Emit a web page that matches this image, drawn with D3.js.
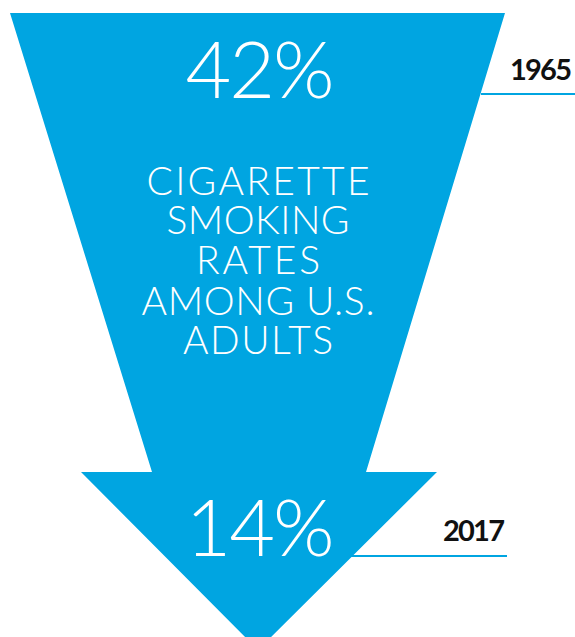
<!DOCTYPE html>
<html>
<head>
<meta charset="utf-8">
<script src="https://cdn.jsdelivr.net/npm/d3@7"></script>
<style>
html,body{margin:0;padding:0;background:#fff;}
svg{display:block;}
</style>
</head>
<body>
<svg id="chart" width="575" height="637"></svg>
<script>
const years = ["1965", "2017"];
const rates = [42, 14];
const titleLines = ["CIGARETTE", "SMOKING", "RATES", "AMONG U.S.", "ADULTS"];

const blue = "#00a5e1";
const svg = d3.select("#chart");

// vertical scale: position of years along arrow
const yPos = d3.scalePoint().domain(years).range([13, 472]);

const topY = yPos(years[0]), neckY = yPos(years[1]);
const cx = 258;
const arrow = [
  [10, topY], [505, topY], [366, neckY], [437, neckY],
  [cx, neckY + 178], [81, neckY], [152, neckY]
];
svg.append("path")
  .attr("d", d3.line()(arrow) + "Z")
  .attr("fill", blue);

const fmt = d => d + "%";
const valueY = [98, 556];
const labelY = [80, 541];
const ruleY = [94, 556];
const ruleX = [[481, 575], [348, 507]];
const labelX = [572, 505];
const titleW = [223, 183, 124, 233, 150];
const titleY = [195, 234, 274, 315, 354];

svg.selectAll("text.value").data(rates).join("text")
  .attr("class", "value")
  .attr("x", cx + 1)
  .attr("y", (d, i) => valueY[i])
  .attr("text-anchor", "middle")
  .attr("fill", "#fff")
  .style("font-family", "Lato, 'Open Sans', sans-serif")
  .style("font-weight", 300)
  .style("font-size", "79px")
  .style("letter-spacing", "-2px")
  .text(fmt);

svg.selectAll("line.rule").data(years).join("line")
  .attr("class", "rule")
  .attr("x1", (d, i) => ruleX[i][0])
  .attr("x2", (d, i) => ruleX[i][1])
  .attr("y1", (d, i) => ruleY[i])
  .attr("y2", (d, i) => ruleY[i])
  .attr("stroke", blue)
  .attr("stroke-width", 2);

svg.selectAll("text.year").data(years).join("text")
  .attr("class", "year")
  .attr("x", (d, i) => labelX[i])
  .attr("y", (d, i) => labelY[i])
  .attr("text-anchor", "end")
  .attr("textLength", 62)
  .attr("lengthAdjust", "spacing")
  .attr("fill", "#111")
  .style("font-family", "Lato, 'Open Sans', sans-serif")
  .style("font-weight", 700)
  .style("font-size", "29px")
  .text(d => d);

svg.selectAll("text.title").data(titleLines).join("text")
  .attr("class", "title")
  .attr("x", cx)
  .attr("y", (d, i) => titleY[i])
  .attr("text-anchor", "middle")
  .attr("textLength", (d, i) => titleW[i])
  .attr("lengthAdjust", "spacing")
  .attr("fill", "#fff")
  .style("font-family", "Lato, 'Open Sans', sans-serif")
  .style("font-weight", 300)
  .style("font-size", "39px")
  .text(d => d);
</script>
</body>
</html>
